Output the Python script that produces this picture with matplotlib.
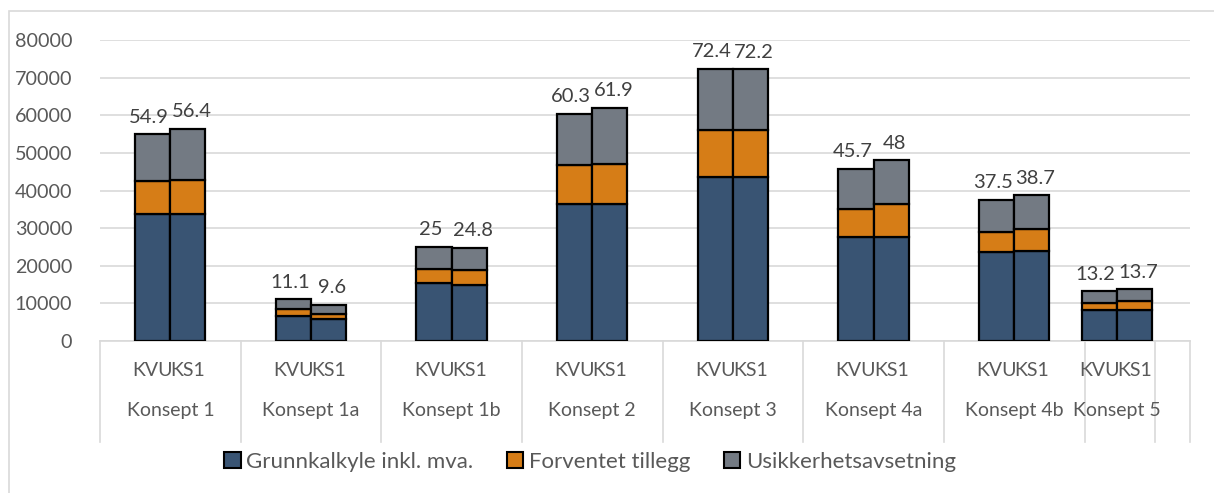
import matplotlib.pyplot as plt
from matplotlib.patches import Patch, Rectangle
from matplotlib.transforms import blended_transform_factory

plt.rcParams['font.family'] = ['Lato', 'DejaVu Sans']

konsepter = ["Konsept 1", "Konsept 1a", "Konsept 1b", "Konsept 2",
             "Konsept 3", "Konsept 4a", "Konsept 4b", "Konsept 5"]
# group centres on the x axis (the last group is squeezed in the original)
centres = [0, 1, 2, 3, 4, 5, 6, 6.73]
alternativ = ["KVU", "KS1"]

# values in MNOK, [KVU, KS1] per concept
grunnkalkyle = [[33700, 33700], [6720, 5930], [15330, 14880], [36490, 36490],
                [43500, 43500], [27720, 27720], [23650, 23810], [8370, 8370]]
forventet = [[8820, 9100], [1860, 1240], [3800, 3990], [10280, 10460],
             [12570, 12570], [7440, 8690], [5420, 6060], [1830, 2180]]
usikkerhet = [[12380, 13600], [2520, 2430], [5870, 5930], [13530, 14950],
              [16330, 16130], [10540, 11590], [8430, 8830], [3000, 3150]]
totaler = [["54.9", "56.4"], ["11.1", "9.6"], ["25", "24.8"], ["60.3", "61.9"],
           ["72.4", "72.2"], ["45.7", "48"], ["37.5", "38.7"], ["13.2", "13.7"]]

serier = ["Grunnkalkyle inkl. mva.", "Forventet tillegg", "Usikkerhetsavsetning"]
farger = ["#395473", "#d67d17", "#737a83"]
tekst = "#595959"

fig = plt.figure(figsize=(12.14, 4.93), dpi=100)
ax = fig.add_axes([100 / 1214, 1 - 341 / 493, 1090 / 1214, 301 / 493])

# chart frame
fig.patches.append(Rectangle((9 / 1214, -0.1), 1.2, 1 - 11 / 493 + 0.1,
                             transform=fig.transFigure, fill=False,
                             edgecolor="#d9d9d9", lw=1.2))

bw = 0.25
for g, c in enumerate(centres):
    for j in range(2):
        x = c + (j - 0.5) * bw
        lag = [grunnkalkyle[g][j], forventet[g][j], usikkerhet[g][j]]
        bunn = 0
        for v, f in zip(lag, farger):
            ax.bar(x, v, bw, bottom=bunn, color=f, edgecolor="black", lw=1.6, zorder=3)
            bunn += v
        # labels pushed slightly apart like Excel does
        ax.text(x + (j - 0.5) * 0.05, bunn + 2300, totaler[g][j], ha="center", va="bottom",
                fontsize=14.5, color="#404040", clip_on=False)

ax.set_xlim(-0.5, 7.25)
ax.set_ylim(0, 80000)
ax.set_yticks(range(0, 80001, 10000))
ax.set_yticklabels([str(v) for v in range(0, 80001, 10000)], fontsize=14.2, color=tekst)
ax.tick_params(axis="y", length=0, pad=20)
ax.set_xticks([])
ax.grid(axis="y", color="#d9d9d9", lw=1.2, zorder=0)
for s in ["top", "right", "left"]:
    ax.spines[s].set_visible(False)
ax.spines["bottom"].set_color("#d9d9d9")
ax.spines["bottom"].set_linewidth(1.2)

# multilevel category axis
tr = blended_transform_factory(ax.transData, ax.transAxes)
for g, c in enumerate(centres):
    for j in range(2):
        ax.text(c + (j - 0.5) * bw, -0.097, alternativ[j], transform=tr,
                ha="center", va="center", fontsize=14, color=tekst)
    ax.text(c, -0.23, konsepter[g], transform=tr, ha="center", va="center",
            fontsize=14, color=tekst)
for d in [-0.5, 0.5, 1.5, 2.5, 3.5, 4.5, 5.5, 6.5, 7.0, 7.25]:
    ax.plot([d, d], [0, -0.336], transform=tr, color="#d9d9d9", lw=1.2, clip_on=False)

handles = [Patch(facecolor=f, edgecolor="black", lw=1.5) for f in farger]
leg = fig.legend(handles, serier, loc="center", bbox_to_anchor=(590 / 1214, 1 - 462 / 493),
                 ncol=3, frameon=False, fontsize=16, handlelength=0.75, handleheight=0.75,
                 handletextpad=0.25, columnspacing=1.5)
for t in leg.get_texts():
    t.set_color(tekst)

fig.savefig("out.png", dpi=100)
